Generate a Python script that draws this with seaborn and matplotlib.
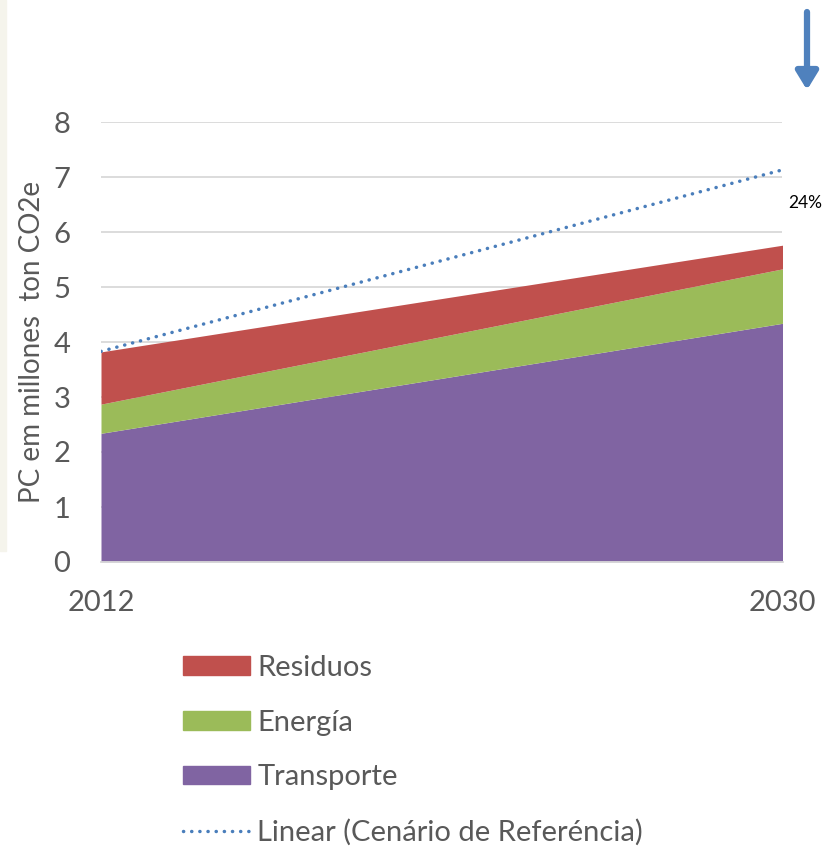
import matplotlib
matplotlib.use("Agg")
import matplotlib.pyplot as plt
import matplotlib.patches as mpatches
from matplotlib.lines import Line2D
import seaborn as sns
import pandas as pd

years = [2012, 2030]
transporte = [2.34, 4.34]
energia = [0.53, 0.99]
residuos = [0.95, 0.43]
referencia = [3.83, 7.13]
reduccion_label = "24%"

c_trans = "#8064a2"
c_ener = "#9bbb59"
c_resid = "#c0504d"
c_line = "#4a7ebb"
grey = "#595959"
dots = (0, (0.05, 2.3))

sns.set_theme(style="white")
plt.rcParams["font.family"] = ["Lato", "DejaVu Sans"]

fig = plt.figure(figsize=(8.37, 8.51), dpi=100)
ax = fig.add_axes([101 / 837, 1 - 562 / 851, 681.5 / 837, 440 / 851])

# faint panel strip at the far left
fig.patches.append(mpatches.Rectangle((0, 1 - 551 / 851), 6 / 837, 551 / 851,
                                      transform=fig.transFigure, color="#f5f4ec", zorder=0))

ax.stackplot(years, transporte, energia, residuos,
             colors=[c_trans, c_ener, c_resid], linewidth=0, zorder=2)

df = pd.DataFrame({"year": years, "ref": referencia})
sns.lineplot(data=df, x="year", y="ref", ax=ax, color=c_line, linestyle=dots,
             linewidth=2.5, dash_capstyle="round", zorder=3)

ax.set_xlim(2012, 2030)
ax.set_ylim(0, 8)
ax.set_xticks(years)
ax.set_yticks(range(0, 9))
ax.yaxis.grid(True, color="#d9d9d9", linewidth=1.3)
ax.set_axisbelow(True)
for s in ["top", "right", "left"]:
    ax.spines[s].set_visible(False)
ax.spines["bottom"].set_color("#d9d9d9")
ax.spines["bottom"].set_linewidth(1.3)
ax.tick_params(axis="x", length=8, width=1.3, color="#d9d9d9", labelsize=21, labelcolor=grey, pad=12)
ax.tick_params(axis="y", length=0, labelsize=21, labelcolor=grey, pad=22)
ax.set_xlabel("")
ax.set_ylabel("PC em millones  ton CO2e", fontsize=20, color=grey, labelpad=6)

# reduction marker
fig.text(805 / 837, 1 - 203 / 851, reduccion_label, fontsize=12.5, color="black",
         ha="center", va="center")
ax.annotate("", xy=(807 / 837, 1 - 90 / 851), xytext=(807 / 837, 1 - 12 / 851),
            xycoords="figure fraction", textcoords="figure fraction",
            arrowprops=dict(arrowstyle="-|>,head_length=0.9,head_width=0.55",
                            color="#4f81bd", lw=4.5, shrinkA=0, shrinkB=0))

handles = [mpatches.Patch(color=c_resid, label="Residuos"),
           mpatches.Patch(color=c_ener, label="Energía"),
           mpatches.Patch(color=c_trans, label="Transporte"),
           Line2D([0], [0], color=c_line, linestyle=dots, linewidth=2.5,
                  dash_capstyle="round", label="Linear (Cenário de Referéncia)")]
leg = fig.legend(handles=handles, loc="upper left", bbox_to_anchor=(183 / 837, 1 - 655 / 851),
                 frameon=False, fontsize=21, handlelength=2.3, handleheight=0.6,
                 handletextpad=0.25, labelspacing=0.98, borderpad=0, borderaxespad=0)
for t in leg.get_texts():
    t.set_color(grey)

fig.savefig("out.png", dpi=100)
